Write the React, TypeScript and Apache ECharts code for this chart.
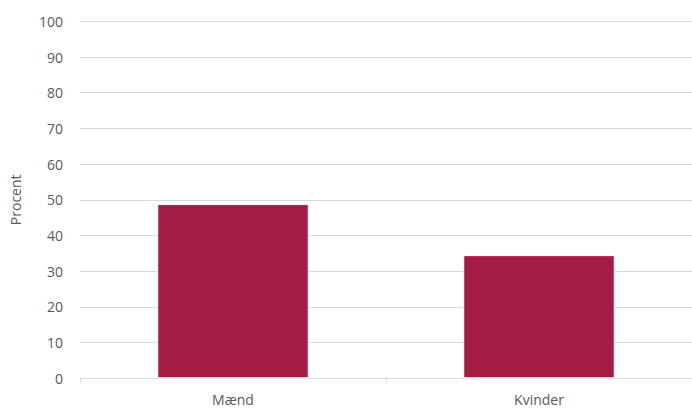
import React, { useEffect, useRef } from "react";
import * as echarts from "echarts";

const categories = ["Mænd", "Kvinder"];
const values = [48.8, 34.5];
const yTicks = { min: 0, max: 100, interval: 10 };
const yTitle = "Procent";

export default function App() {
  const ref = useRef<HTMLDivElement>(null);
  useEffect(() => {
    document.body.style.margin = "0";
    const chart = echarts.init(ref.current!, null, { renderer: "svg" });
    chart.setOption({
      animation: false,
      backgroundColor: "#ffffff",
      textStyle: { fontFamily: "Open Sans, Noto Sans, sans-serif" },
      grid: { left: 76, top: 21.3, width: 620, height: 357, containLabel: false },
      xAxis: {
        type: "category",
        data: categories,
        axisLine: { show: true, lineStyle: { color: "#d9d9d9", width: 1 } },
        axisTick: { show: true, length: 5, lineStyle: { color: "#d9d9d9" } },
        axisLabel: { color: "#595959", fontSize: 14, margin: 14 },
      },
      yAxis: {
        type: "value",
        min: yTicks.min,
        max: yTicks.max,
        interval: yTicks.interval,
        name: yTitle,
        nameLocation: "middle",
        nameGap: 58,
        nameRotate: 90,
        nameTextStyle: { color: "#595959", fontSize: 14 },
        axisLine: { show: false },
        axisTick: { show: false },
        axisLabel: { color: "#595959", fontSize: 14, margin: 17 },
        splitLine: { show: true, lineStyle: { color: "#d9d9d9", width: 1 } },
      },
      series: [
        {
          type: "bar",
          data: values,
          barWidth: "49.5%",
          itemStyle: { color: "#a21c43", borderColor: "#ffffff", borderWidth: 1 },
        },
      ],
    });
    return () => chart.dispose();
  }, []);
  return <div ref={ref} style={{ width: 692, height: 408 }} />;
}
